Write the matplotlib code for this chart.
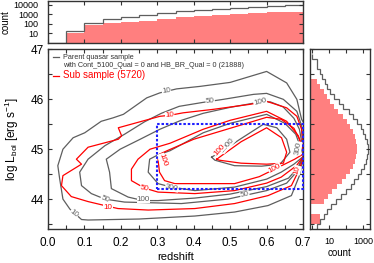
import matplotlib
matplotlib.use("Agg")
import matplotlib.pyplot as plt
from matplotlib.lines import Line2D
from matplotlib.patches import Rectangle
from matplotlib.ticker import MultipleLocator, FixedLocator, NullLocator
import numpy as np

plt.rcParams['font.family'] = ['Liberation Sans', 'DejaVu Sans']
plt.rcParams['mathtext.default'] = 'regular'

# ---- redshift histogram (top panel), bins of 0.05 ----
z_edges = np.linspace(0.0, 0.7, 15)
z_parent = [1, 19, 130, 300, 570, 870, 1300, 2300, 2950, 3800, 4800, 5700, 7300, 9300]
z_sub = [1, 10, 75, 115, 170, 220, 330, 490, 740, 870, 1100, 1300, 1700, 1950]

# ---- luminosity histogram (right panel), bins of 0.1 dex ----
L_edges = np.linspace(43.4, 46.9, 36)
L_parent = [2, 3, 5, 8, 14, 25, 50, 100, 190, 320, 520, 750, 1100, 1450, 1800,
            2000, 1950, 1650, 1350, 1000, 750, 480, 280, 150, 70, 40, 20, 12, 8,
            6, 4, 3, 2, 2, 1]
L_sub = [0, 3, 3, 0, 0, 5, 9, 15, 30, 55, 100, 170, 250, 330, 420, 480, 480,
         420, 350, 260, 180, 110, 70, 35, 20, 12, 8, 5, 3, 2, 0, 0, 0, 0, 0]

# ---- contour lines (redshift, log Lbol) ----
gray10_z = [0.700, 0.696, 0.683, 0.655, 0.600, 0.500, 0.417, 0.353, 0.307, 0.271, 0.207, 0.179, 0.146, 0.101, 0.069,
            0.041, 0.027, 0.032, 0.041, 0.060, 0.092, 0.110, 0.250, 0.403, 0.512, 0.604, 0.668, 0.690, 0.700]
gray10_L = [45.55, 45.60, 46.00, 46.33, 46.56, 46.34, 46.26, 46.21, 46.13, 46.03, 45.70, 45.63, 45.56, 45.33, 45.23,
            45.00, 44.67, 44.41, 44.00, 43.80, 43.59, 43.58, 43.60, 43.66, 43.74, 43.87, 44.07, 44.47, 44.80]

red10_z = [0.700, 0.696, 0.683, 0.655, 0.600, 0.554, 0.454, 0.371, 0.334, 0.307, 0.193, 0.202, 0.193, 0.110, 0.078,
           0.092, 0.041, 0.037, 0.064, 0.110, 0.156, 0.192, 0.275, 0.403, 0.512, 0.604, 0.668, 0.686, 0.700]
red10_L = [45.07, 45.40, 45.66, 45.83, 45.96, 45.90, 45.80, 45.73, 45.68, 45.66, 45.43, 45.27, 45.20, 45.04, 44.80,
           44.70, 44.47, 44.27, 44.05, 43.95, 43.87, 43.81, 43.78, 43.81, 43.91, 44.07, 44.27, 44.54, 44.80]

gray50_z = [0.700, 0.696, 0.683, 0.646, 0.600, 0.564, 0.481, 0.426, 0.360, 0.311, 0.265, 0.210, 0.156, 0.110, 0.087,
            0.092, 0.119, 0.156, 0.210, 0.366, 0.494, 0.600, 0.655, 0.683, 0.700]
gray50_L = [45.07, 45.47, 45.76, 46.00, 46.12, 46.10, 46.00, 45.94, 45.86, 45.72, 45.55, 45.30, 45.07, 44.80, 44.54,
            44.27, 44.11, 44.00, 43.94, 43.91, 44.00, 44.17, 44.32, 44.55, 44.85]

gray100_z = [0.700, 0.690, 0.675, 0.645, 0.610, 0.577, 0.500, 0.426, 0.362, 0.307, 0.253, 0.198, 0.160, 0.169, 0.174,
             0.220, 0.261, 0.302, 0.403, 0.500, 0.600, 0.660, 0.685, 0.700]
gray100_L = [45.00, 45.40, 45.62, 45.85, 45.95, 45.94, 45.84, 45.72, 45.57, 45.40, 45.20, 45.00, 44.80, 44.54, 44.21,
             44.04, 43.97, 43.97, 44.02, 44.10, 44.25, 44.42, 44.62, 44.85]

red50_z = [0.700, 0.687, 0.655, 0.600, 0.500, 0.426, 0.335, 0.280, 0.247, 0.229, 0.229, 0.265, 0.302, 0.403, 0.512,
           0.600, 0.640, 0.682, 0.700]
red50_L = [45.00, 45.27, 45.56, 45.76, 45.58, 45.40, 45.12, 45.00, 44.80, 44.60, 44.37, 44.22, 44.14, 44.11, 44.17,
           44.32, 44.44, 44.67, 44.85]

gray300_z = [0.700, 0.690, 0.680, 0.650, 0.600, 0.500, 0.426, 0.335, 0.300, 0.279, 0.275, 0.302, 0.339, 0.403, 0.512,
             0.600, 0.640, 0.675, 0.700]
gray300_L = [44.90, 45.10, 45.30, 45.52, 45.70, 45.52, 45.33, 44.97, 44.88, 44.80, 44.54, 44.31, 44.24, 44.17, 44.24,
             44.40, 44.54, 44.70, 44.85]

red100_z = [0.700, 0.690, 0.675, 0.640, 0.600, 0.500, 0.400, 0.330, 0.306, 0.302, 0.306, 0.320, 0.348, 0.512, 0.580,
            0.622, 0.677, 0.700]
red100_L = [44.95, 45.20, 45.42, 45.60, 45.64, 45.42, 45.20, 44.98, 44.90, 44.80, 44.54, 44.37, 44.31, 44.31, 44.45,
            44.60, 44.80, 44.90]

gray1000_z = [0.449, 0.490, 0.527, 0.591, 0.628, 0.655, 0.664, 0.637, 0.586, 0.512, 0.458, 0.449]
gray1000_L = [44.84, 45.02, 45.20, 45.50, 45.43, 45.20, 44.94, 44.70, 44.66, 44.67, 44.78, 44.84]

redin_z = [0.463, 0.530, 0.600, 0.641, 0.655, 0.646, 0.600, 0.530, 0.470, 0.463]
redin_L = [44.80, 45.15, 45.43, 45.23, 44.94, 44.72, 44.70, 44.72, 44.78, 44.80]

# contour labels: text, redshift, logL, rotation, colour key
label_text = ['10', '10', '50', '50', '50', '100', '100', '300', '300', '1000',
              '10', '10', '10', '50', '100', '100', '100']
label_z = [0.325, 0.072, 0.445, 0.156, 0.540, 0.582, 0.262, 0.340, 0.686, 0.492,
           0.334, 0.165, 0.684, 0.265, 0.314, 0.622, 0.470]
label_L = [46.17, 43.71, 45.97, 43.99, 44.09, 45.95, 43.99, 44.23, 45.02, 45.08,
           45.68, 43.84, 44.58, 44.22, 44.78, 44.62, 44.98]
label_rot = [8, -38, 5, -22, 12, 15, 0, -12, 80, 48,
             5, 0, 75, -12, -72, 28, 48]
label_red = [False] * 10 + [True] * 7

box_z = [0.3, 0.7]
box_L = [44.2, 45.5]

GRAY = '#5e5e5e'
RED = '#ff0000'
PINK = '#ff7f7f'
SPINE = '#333333'

fig = plt.figure(figsize=(3.74, 2.63), dpi=100)
ax = fig.add_axes([0.1283, 0.1293, 0.682, 0.6825])
axt = fig.add_axes([0.1283, 0.8354, 0.682, 0.161])
axr = fig.add_axes([0.829, 0.1293, 0.160, 0.6825])

# main panel: contours
contours = [(gray10_z, gray10_L, GRAY), (gray50_z, gray50_L, GRAY), (gray100_z, gray100_L, GRAY),
            (gray300_z, gray300_L, GRAY), (gray1000_z, gray1000_L, GRAY),
            (red10_z, red10_L, RED), (red50_z, red50_L, RED), (red100_z, red100_L, RED),
            (redin_z, redin_L, RED)]
for cz, cL, col in contours:
    ax.plot(cz, cL, color=col, lw=0.9)

for t, lz, lL, rot, isred in zip(label_text, label_z, label_L, label_rot, label_red):
    ax.text(lz, lL, t, fontsize=5.8, color=RED if isred else GRAY, rotation=rot,
            ha='center', va='center', rotation_mode='anchor',
            bbox=dict(facecolor='white', edgecolor='none', pad=0.2), zorder=4)

ax.add_patch(Rectangle((box_z[0], box_L[0]), box_z[1] - box_z[0], box_L[1] - box_L[0],
                       fill=False, edgecolor='#2020ff', lw=1.5, ls=(0, (1.2, 0.9)),
                       clip_on=False, zorder=6))

handles = [Line2D([], [], color=GRAY, lw=0.9), Line2D([], [], color='none'),
           Line2D([], [], color=RED, lw=0.9)]
labels = ['Parent quasar sample', 'with Cont_5100_Qual = 0 and HB_BR_Qual = 0 (21888)',
          'Sub sample (5720)']
leg = ax.legend(handles, labels, loc='upper left', frameon=False, handlelength=0.9,
                handletextpad=0.5, borderaxespad=0.25, labelspacing=0.15, fontsize=5.2)
texts = leg.get_texts()
texts[0].set_color('#333333')
texts[1].set_color('#333333')
texts[2].set_color(RED)
texts[2].set_fontsize(7.0)

ax.set_xlim(0, 0.7)
ax.set_ylim(43.4, 47.0)
ax.xaxis.set_major_locator(MultipleLocator(0.1))
ax.xaxis.set_minor_locator(MultipleLocator(0.05))
ax.yaxis.set_major_locator(MultipleLocator(1))
ax.yaxis.set_minor_locator(MultipleLocator(0.5))
ax.set_xlabel('redshift', fontsize=8, labelpad=2)
ax.set_ylabel('log L$_{bol}$ [erg s$^{-1}$]', fontsize=8.5, labelpad=7)

# top panel: redshift histogram
sub_top = np.where(np.array(z_sub) > 0, z_sub, 0.1)
axt.stairs(sub_top, z_edges, fill=True, color=PINK, baseline=0.1, lw=0)
axt.stairs(z_parent, z_edges, color=GRAY, baseline=None, lw=0.9)
axt.set_yscale('log')
axt.set_xlim(0, 0.7)
axt.set_ylim(0.87, 26000)
axt.xaxis.set_major_locator(MultipleLocator(0.1))
axt.set_xticklabels([])
axt.yaxis.set_major_locator(FixedLocator([10, 100, 1000, 10000]))
axt.yaxis.set_minor_locator(NullLocator())
axt.set_yticklabels(['10', '100', '1000', '10000'])
axt.set_ylabel('count', fontsize=7, labelpad=2)

# right panel: luminosity histogram
sub_right = np.where(np.array(L_sub) > 0, L_sub, 0.1)
axr.stairs(sub_right, L_edges, orientation='horizontal', fill=True, color=PINK, baseline=0.1, lw=0)
axr.stairs(L_parent, L_edges, orientation='horizontal', color=GRAY, baseline=None, lw=0.9)
axr.set_xscale('log')
axr.set_xlim(0.76, 2600)
axr.set_ylim(43.4, 47.0)
axr.yaxis.set_major_locator(MultipleLocator(0.5))
axr.set_yticklabels([])
axr.xaxis.set_major_locator(FixedLocator([1, 10, 100, 1000]))
axr.xaxis.set_minor_locator(NullLocator())
axr.set_xticklabels(['', '10', '', '1000'])
axr.set_xlabel('count', fontsize=7, labelpad=1)

for a in (ax, axt, axr):
    for s in a.spines.values():
        s.set_color(SPINE)
        s.set_linewidth(1.0)
    a.tick_params(which='both', direction='in', top=True, right=True, length=3,
                  width=0.8, color=SPINE)
ax.tick_params(axis='x', labelsize=8.5, pad=6)
ax.tick_params(axis='y', labelsize=8.5, pad=3)
axt.tick_params(axis='y', labelsize=6.5, pad=7)
axr.tick_params(axis='x', labelsize=6.5, pad=6)

fig.savefig('out.png', dpi=100)
